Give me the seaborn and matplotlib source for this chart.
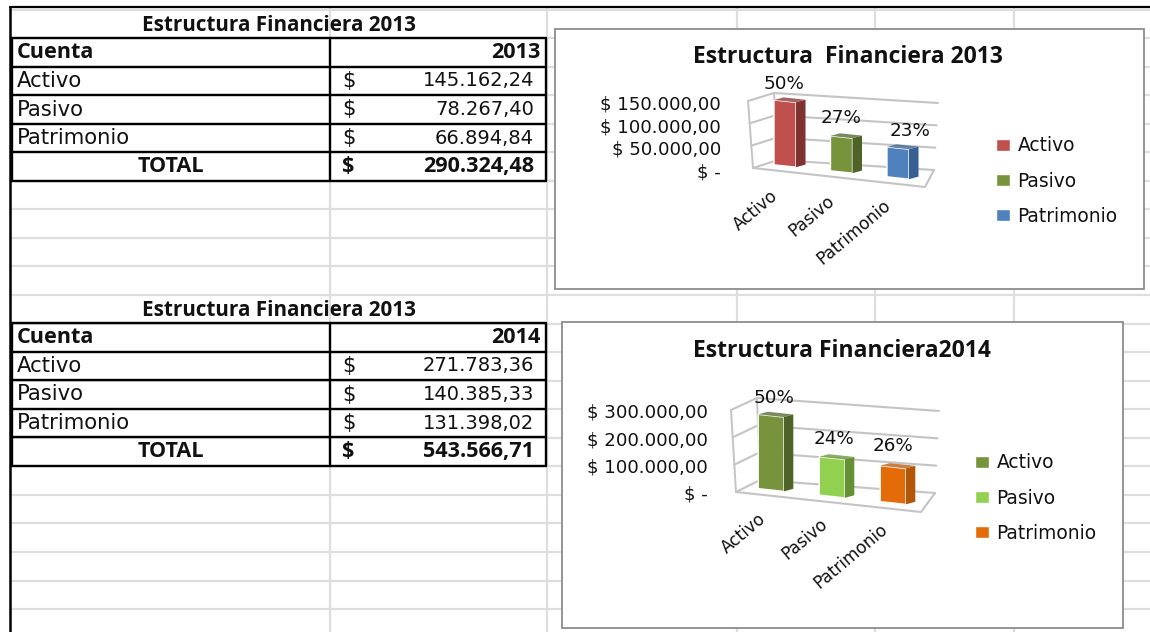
import numpy as np
import pandas as pd
import matplotlib
matplotlib.use("Agg")
import matplotlib.pyplot as plt
from matplotlib.patches import Polygon, Rectangle
from matplotlib.transforms import Affine2D, ScaledTranslation
import seaborn as sns

cuentas = ["Activo", "Pasivo", "Patrimonio"]
valores_2013 = [145162.24, 78267.40, 66894.84]
valores_2014 = [271783.36, 140385.33, 131398.02]
total_2013 = "290.324,48"
total_2014 = "543.566,71"
textos_2013 = ["145.162,24", "78.267,40", "66.894,84"]
textos_2014 = ["271.783,36", "140.385,33", "131.398,02"]
pct_2013 = ["50%", "27%", "23%"]
pct_2014 = ["50%", "24%", "26%"]
ticks_2013 = [0, 50000, 100000, 150000]
ticks_2014 = [0, 100000, 200000, 300000]
ticklabels_2013 = ["$ -", "$ 50.000,00", "$ 100.000,00", "$ 150.000,00"]
ticklabels_2014 = ["$ -", "$ 100.000,00", "$ 200.000,00", "$ 300.000,00"]
colores_2013 = ["#c0504d", "#77933c", "#4f81bd"]
laterales_2013 = ["#7f3230", "#4f6228", "#376092"]
colores_2014 = ["#77933c", "#92d050", "#e36c09"]
laterales_2014 = ["#4f6228", "#659134", "#b35607"]

W, H = 1150, 632
sns.set_theme(style="white")
plt.rcParams["font.family"] = ["DejaVu Sans"]
plt.rcParams["text.color"] = "#111111"
plt.rcParams["xtick.color"] = "#111111"
plt.rcParams["ytick.color"] = "#111111"
BOLD = "Open Sans"
GRID = "#dedede"
WALL = "#c4c4c4"
REG = 15.2
NUM = 14.0
BD = 15.6
fig = plt.figure(figsize=(W / 100, H / 100), dpi=100, facecolor="white")

bg = fig.add_axes([0, 0, 1, 1])
bg.set_xlim(0, W)
bg.set_ylim(H, 0)
bg.axis("off")

# hoja de calculo
for y in np.arange(9.5, H, 28.55):
    bg.plot([10, W], [y, y], color=GRID, lw=1.6, zorder=1)
for x in [330, 547, 737, 875, 1014]:
    bg.plot([x, x], [8, H], color=GRID, lw=1.6, zorder=1)
bg.plot([10, W], [7, 7], color="black", lw=1.6, zorder=5)
bg.plot([10, 10], [7, H], color="black", lw=1.8, zorder=5)


def tabla(top, anio, textos, total):
    rows = top + 28.6 * np.arange(6)
    for y in rows:
        bg.plot([12, 546], [y, y], color="black", lw=1.7, zorder=5)
    for x in [12, 330, 546]:
        bg.plot([x, x], [rows[0], rows[-1]], color="black", lw=1.7, zorder=5)
    mid = rows[:-1] + 14.3
    bg.text(279, top - 12.5, "Estructura Financiera 2013", ha="center", va="center",
            family=BOLD, weight="bold", fontsize=14.9, zorder=6)
    bg.text(17, mid[0], "Cuenta", va="center", family=BOLD, weight="bold", fontsize=BD, zorder=6)
    bg.text(541, mid[0], anio, va="center", ha="right", family=BOLD, weight="bold", fontsize=BD, zorder=6)
    for i, c in enumerate(cuentas):
        bg.text(17, mid[i + 1], c, va="center", fontsize=REG, zorder=6)
        bg.text(342, mid[i + 1], "$", va="center", fontsize=REG, zorder=6)
        bg.text(534, mid[i + 1], textos[i], va="center", ha="right", fontsize=NUM, zorder=6)
    bg.text(171, mid[4], "TOTAL", va="center", ha="center", family=BOLD, weight="bold", fontsize=BD, zorder=6)
    bg.text(342, mid[4], "$", va="center", family=BOLD, weight="bold", fontsize=BD, zorder=6)
    bg.text(534, mid[4], total, va="center", ha="right", family=BOLD, weight="bold", fontsize=BD, zorder=6)


tabla(38, "2013", textos_2013, total_2013)
tabla(323, "2014", textos_2014, total_2014)


def grafico(frame, title, title_xy, vals, ticks, ticklabels, pct, cols, sides,
            x0, dx, y0, ytop, wall, base, slope, label_off, tick_anchor, legend_xy, bar_w):
    fx0, fy0, fx1, fy1 = frame
    bg.add_patch(Rectangle((fx0, fy0), fx1 - fx0, fy1 - fy0, fc="white", ec="#8c8c8c", lw=1.3, zorder=3))
    bg.text(*title_xy, title, ha="center", va="center", family=BOLD, weight="bold", fontsize=16.5, zorder=6)

    left, right = x0 - 60, x0 + 2 * dx + 60
    ax = fig.add_axes([left / W, 1 - y0 / H, (right - left) / W, (y0 - ytop) / H], zorder=4)
    ax.patch.set_alpha(0)
    df = pd.DataFrame({"cuenta": cuentas, "valor": vals})
    sns.barplot(data=df, x="cuenta", y="valor", hue="cuenta", palette=cols, dodge=False,
                width=bar_w, legend=True, ax=ax, saturation=1, zorder=3)
    ax.set_xlim(-60 / dx, 2 + 60 / dx)
    ax.set_ylim(ticks[0], ticks[-1])
    u = ticks[-1] / (y0 - ytop)  # dolares por pixel
    sns.despine(ax=ax, left=True, bottom=True)
    ax.set_xlabel("")
    ax.set_ylabel("")
    ax.set_yticks(ticks, ticklabels)
    ax.tick_params(axis="y", length=0, labelsize=13.1, pad=tick_anchor[3])
    ax.tick_params(axis="x", length=0, labelsize=12.2, pad=tick_anchor[0])
    ax.set_xticks(range(3), cuentas, rotation=40, ha="right", rotation_mode="anchor")
    for i, lab in enumerate(ax.get_xticklabels()):
        lab.set_transform(lab.get_transform() + ScaledTranslation(tick_anchor[1], -i * tick_anchor[2], fig.dpi_scale_trans))

    # proyeccion: cizalla de la base
    m = np.array([[1, 0, 0], [-slope * u, 1, -base * u], [0, 0, 1]], float)
    proj = Affine2D(m) + ax.transData

    # paredes y rejilla
    cx = lambda px: (px - x0) / dx
    top = ticks[-1]
    lx = lambda v: wall["xlb"] + (wall["xl"] - wall["xlb"]) * v / top
    bx = lambda v: wall["xbb"] + (wall["xb"] - wall["xbb"]) * v / top
    rx = lambda v: wall["xrb"] + (wall["xr"] - wall["xrb"]) * v / top
    for v in ticks:
        ax.plot([cx(lx(v)), cx(bx(v)), cx(rx(v))],
                [v - wall["l"] * u, v - wall["b"] * u, v - wall["r"] * u],
                color=WALL, lw=1.5, zorder=1, clip_on=False)
    ax.plot([cx(lx(0)), cx(lx(top))], [-wall["l"] * u, top - wall["l"] * u], color=WALL, lw=1.4, zorder=1, clip_on=False)
    ax.plot([cx(bx(0)), cx(bx(top))], [-wall["b"] * u, top - wall["b"] * u], color=WALL, lw=1.4, zorder=1, clip_on=False)
    ax.plot([cx(lx(0)), cx(wall["xf"]), cx(rx(0))],
            [-wall["l"] * u, -wall["f"] * u, -wall["r"] * u],
            color=WALL, lw=1.5, zorder=1, clip_on=False)

    # caras de las barras
    depth_x, depth_y = 9.5 / dx, 3.6 * u
    bars = sorted([p for p in ax.patches if p.get_height() > 0], key=lambda p: p.get_x())
    for i, p in enumerate(bars):
        a, b, h = p.get_x(), p.get_x() + p.get_width(), p.get_height()
        p.set_transform(proj)
        p.set_clip_on(False)
        p.set_zorder(3)
        ax.add_patch(Polygon([(b, 0), (b + depth_x, depth_y), (b + depth_x, h + depth_y), (b, h)],
                             fc=sides[i], ec="none", transform=proj, clip_on=False, zorder=3))
        ax.add_patch(Polygon([(a, h), (b, h), (b + depth_x, h + depth_y), (a + depth_x, h + depth_y)],
                             fc=sides[i], alpha=0.75, ec="none", transform=proj, clip_on=False, zorder=3))
        ox, oy = label_off[i]
        ax.annotate(pct[i], xy=((a + b) / 2, h), xycoords=proj, xytext=(ox * 0.72, oy * 0.72),
                    textcoords="offset points", ha="center", va="center",
                    fontsize=13.2, color="#111111", zorder=6, annotation_clip=False)

    sns.move_legend(ax, loc="center left", bbox_to_anchor=(legend_xy[0] / W, 1 - legend_xy[1] / H),
                    bbox_transform=fig.transFigure, title=None, frameon=False,
                    fontsize=13.4, labelspacing=0.88, handlelength=0.75, handleheight=0.62,
                    handletextpad=0.4, borderpad=0, borderaxespad=0)


grafico((555, 29, 1144, 289), "Estructura  Financiera 2013", (848, 57),
        valores_2013, ticks_2013, ticklabels_2013, pct_2013, colores_2013, laterales_2013,
        x0=785, dx=56.5, y0=170, ytop=103,
        wall=dict(xl=748, xlb=753, xb=774, xbb=778, xr=938, xrb=934, xf=925, l=-2, b=-10, r=0, f=17),
        base=-4, slope=6, label_off=[(-1, 17), (0, 19), (12, 17)],
        tick_anchor=(12, -0.15, 0.05, 2.8), legend_xy=(996, 181), bar_w=0.39)

grafico((562, 322, 1123, 628), "Estructura Financiera2014", (842, 351),
        valores_2014, ticks_2014, ticklabels_2014, pct_2014, colores_2014, laterales_2014,
        x0=771, dx=61, y0=493, ytop=411,
        wall=dict(xl=731, xlb=736, xb=757, xbb=760, xr=939, xrb=935, xf=921, l=-1, b=-13, r=0, f=19),
        base=-3, slope=6.5, label_off=[(3, 18), (2, 19), (0, 21)],
        tick_anchor=(12, -0.13, 0.055, 2.5), legend_xy=(975, 498), bar_w=0.42)

fig.savefig("out.png", dpi=100)
